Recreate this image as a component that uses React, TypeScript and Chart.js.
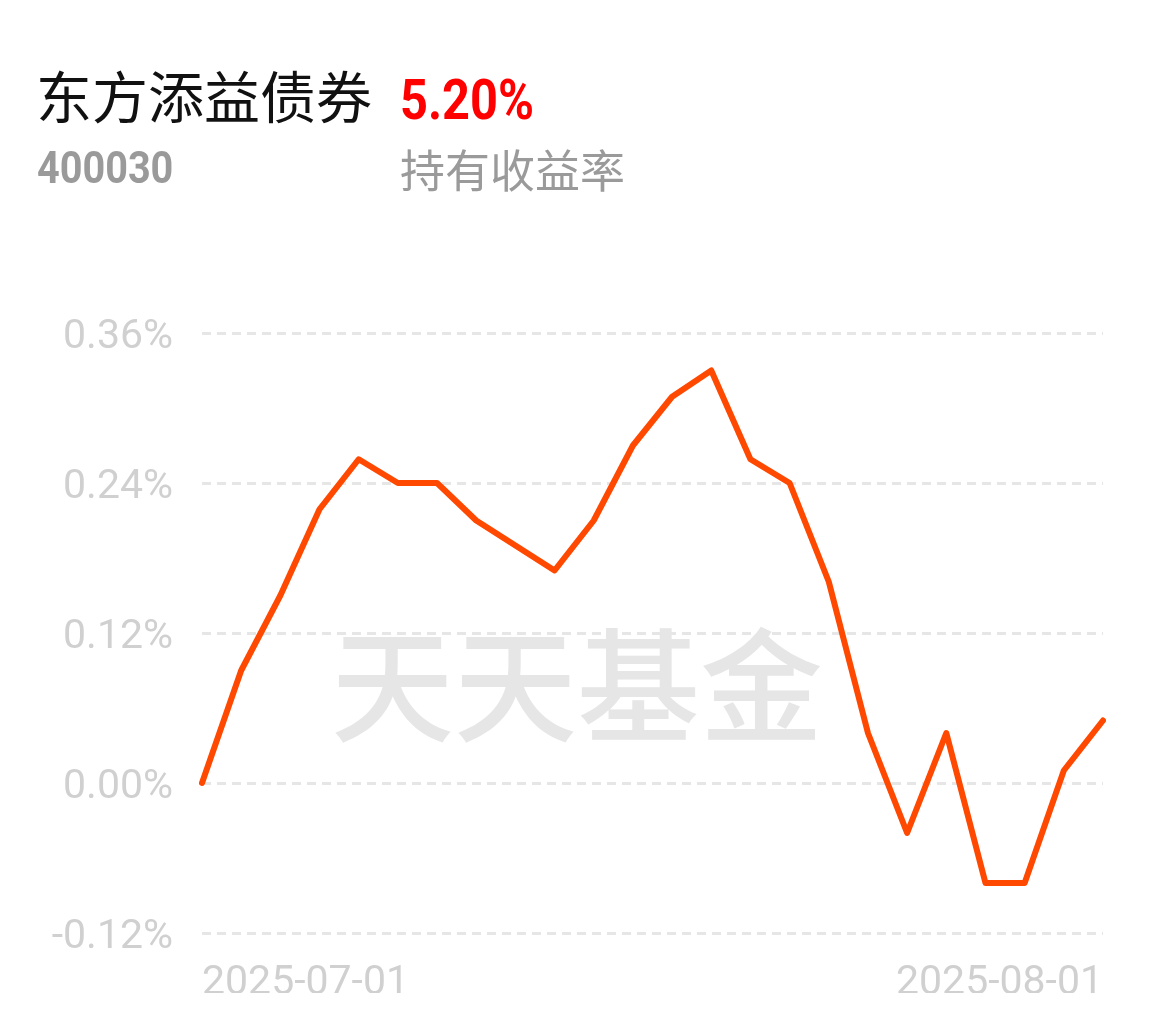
import React, { useEffect, useRef } from "react";
import { Chart, registerables } from "chart.js";

Chart.register(...registerables);

const fundName = "东方添益债券";
const fundCode = "400030";
const holdReturn = "5.20%";
const holdLabel = "持有收益率";
const watermark = "天天基金";

const dates = [
  "2025-07-01", "2025-07-02", "2025-07-03", "2025-07-04", "2025-07-07", "2025-07-08",
  "2025-07-09", "2025-07-10", "2025-07-11", "2025-07-14", "2025-07-15", "2025-07-16",
  "2025-07-17", "2025-07-18", "2025-07-21", "2025-07-22", "2025-07-23", "2025-07-24",
  "2025-07-25", "2025-07-28", "2025-07-29", "2025-07-30", "2025-07-31", "2025-08-01",
];

const returns = [
  0.0, 0.09, 0.15, 0.219, 0.259, 0.24, 0.24, 0.21, 0.19, 0.17, 0.21, 0.27,
  0.309, 0.33, 0.259, 0.24, 0.161, 0.04, -0.04, 0.04, -0.08, -0.08, 0.01, 0.05,
];

const yMin = -0.12;
const yMax = 0.36;
const yStep = 0.12;

export default function App() {
  const canvasRef = useRef<HTMLCanvasElement | null>(null);

  useEffect(() => {
    const canvas = canvasRef.current;
    if (!canvas) return;
    const chart = new Chart(canvas, {
      type: "line",
      data: {
        labels: dates,
        datasets: [
          {
            data: returns,
            borderColor: "#ff4800",
            borderWidth: 6,
            pointRadius: 0,
            tension: 0,
            borderJoinStyle: "round",
            borderCapStyle: "round",
            fill: false,
          },
        ],
      },
      options: {
        animation: false,
        responsive: false,
        maintainAspectRatio: false,
        layout: { padding: { top: 333, right: 52, bottom: 29, left: 0 } },
        plugins: { legend: { display: false }, tooltip: { enabled: false } },
        scales: {
          x: {
            type: "category",
            offset: false,
            grid: { display: false, drawTicks: false },
            border: { display: false },
            afterFit: (scale: any) => {
              scale.height = 60;
            },
            ticks: {
              autoSkip: false,
              maxRotation: 0,
              minRotation: 0,
              align: "inner",
              padding: 26,
              color: "#d0d0d0",
              font: { family: "Roboto", size: 41 },
              callback: (_v: any, i: number) =>
                i === 0 || i === dates.length - 1 ? dates[i] : "",
            },
          },
          y: {
            min: yMin,
            max: yMax,
            afterFit: (scale: any) => {
              scale.width = 202;
            },
            grid: {
              drawTicks: false,
              color: "#e6e6e6",
              lineWidth: 3,
            },
            border: { display: false, dash: [9, 6] },
            ticks: {
              stepSize: yStep,
              padding: 29,
              labelOffset: 5,
              color: "#d0d0d0",
              font: { family: "Roboto", size: 41 },
              callback: (v: any) => Number(v).toFixed(2) + "%",
            },
          },
        },
      },
    } as any);
    return () => chart.destroy();
  }, []);

  return (
    <div
      style={{
        position: "fixed",
        left: 0,
        top: 0,
        width: 1155,
        height: 1022,
        background: "#ffffff",
        overflow: "hidden",
      }}
    >
      <div
        style={{
          position: "absolute",
          left: 331,
          top: 617,
          fontFamily: "'Noto Sans CJK SC'",
          fontWeight: 500,
          fontSize: 123,
          lineHeight: 1,
          color: "#e6e6e6",
          whiteSpace: "nowrap",
        }}
      >
        {watermark}
      </div>
      <canvas
        ref={canvasRef}
        width={1155}
        height={1022}
        style={{ position: "absolute", left: 0, top: 0 }}
      />
      <div
        style={{
          position: "absolute",
          left: 36,
          top: 66,
          fontFamily: "'Noto Sans CJK SC'",
          fontSize: 56,
          lineHeight: 1,
          color: "#111111",
          whiteSpace: "nowrap",
        }}
      >
        {fundName}
      </div>
      <div
        style={{
          position: "absolute",
          left: 400,
          top: 72,
          fontFamily: "Roboto",
          fontWeight: 700,
          fontSize: 56,
          lineHeight: 1,
          color: "#ff0000",
          whiteSpace: "nowrap",
          transform: "scaleX(0.87)",
          transformOrigin: "left top",
        }}
      >
        {holdReturn}
      </div>
      <div
        style={{
          position: "absolute",
          left: 37,
          top: 146,
          fontFamily: "Roboto",
          fontWeight: 700,
          fontSize: 44,
          lineHeight: 1,
          color: "#9a9a9a",
          whiteSpace: "nowrap",
          transform: "scaleX(0.9)",
          transformOrigin: "left top",
        }}
      >
        {fundCode}
      </div>
      <div
        style={{
          position: "absolute",
          left: 400,
          top: 146,
          fontFamily: "'Noto Sans CJK SC'",
          fontSize: 45,
          lineHeight: 1,
          color: "#9a9a9a",
          whiteSpace: "nowrap",
        }}
      >
        {holdLabel}
      </div>
    </div>
  );
}
